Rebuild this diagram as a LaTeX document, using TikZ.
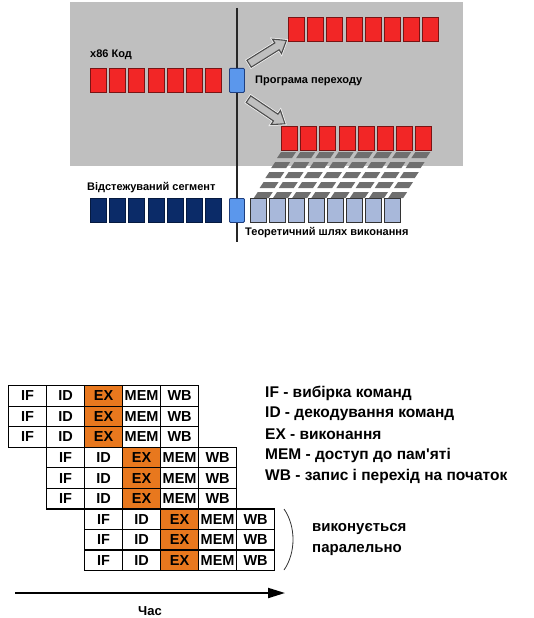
\documentclass[tikz,border=0pt]{standalone}
\usepackage{fontspec}
\setmainfont{Liberation Sans}
\usepackage{xcolor}
\usepackage{tikz}
\usetikzlibrary{arrows.meta,shapes.arrows}
\definecolor{cpanel}{HTML}{BFBFBF}
\definecolor{cred}{HTML}{F22626}
\definecolor{credd}{HTML}{7A1414}
\definecolor{cjump}{HTML}{5B97EC}
\definecolor{cjumpd}{HTML}{1F3F7F}
\definecolor{cnavy}{HTML}{0B2B68}
\definecolor{cnavyd}{HTML}{061A40}
\definecolor{clight}{HTML}{A8B8DA}
\definecolor{cshadow}{HTML}{6F6F6F}
\definecolor{corange}{HTML}{E8781E}
\tikzset{
  redbox/.style={rectangle, draw=credd, fill=cred, minimum width=16pt,
    minimum height=24pt, inner sep=0pt, anchor=north west, line width=0.8pt},
  jumpbox/.style={redbox, draw=cjumpd, fill=cjump, minimum width=15pt, rounded corners=1pt},
  navybox/.style={redbox, draw=cnavyd, fill=cnavy},
  pathbox/.style={redbox, draw=black!80, fill=clight},
  hollow/.style={single arrow, draw=black!70, fill=cpanel, line width=1.1pt,
    minimum height=44pt, inner sep=3.5pt, single arrow head extend=4.5pt,
    single arrow tip angle=75,
    preaction={draw=white!85!cpanel, line width=2.6pt}},
  lbl/.style={anchor=west, inner sep=0pt, font=\bfseries\fontsize{11}{13}\selectfont},
  stage/.style={rectangle, draw=black, fill=white, line width=1.2pt, anchor=north west,
    minimum width=38pt, minimum height=20.55pt, inner sep=0pt,
    font=\bfseries\fontsize{14.5}{16}\selectfont},
  exstage/.style={stage, fill=corange},
  legend/.style={anchor=west, inner sep=0pt, font=\bfseries\fontsize{15.5}{17}\selectfont},
  timearrow/.style={-{Triangle[length=17pt,width=10pt]}, line width=2pt, draw=black},
}
\begin{document}
\begin{tikzpicture}[x=1pt,y=-1pt]
  \useasboundingbox (0,0) rectangle (533,618);
  \fill[cpanel] (70,2) rectangle (463,166);
  \foreach \rw in {0,...,4}
    \foreach \kk in {0,...,7}
      \fill[cshadow] (281+19.2*\kk-5.8*\rw,152+10*\rw) -- ++(15,0) -- ++(-4,6) -- ++(-15,0) -- cycle;
  \coordinate (axtop) at (237,8);
  \coordinate (axbot) at (237,242);
  \draw[line width=2pt, black!85] (axtop) -- (axbot);
  \foreach \kk in {0,...,6}{
    \node[redbox] (x86-\kk) at (90+19.2*\kk,68) {};
    \node[navybox] (trace-\kk) at (90+19.2*\kk,198) {};
  }
  \foreach \kk in {0,...,7}{
    \node[redbox] (hi-\kk) at (288+19.2*\kk,17) {};
    \node[redbox] (lo-\kk) at (281+19.2*\kk,126) {};
    \node[pathbox] (path-\kk) at (250+19.2*\kk,198) {};
  }
  \node[jumpbox] (jmp) at (229,68) {};
  \node[jumpbox] (jmp2) at (229,198) {};
  \node[hollow, rotate=32] (up) at (265.5,53.5) {};
  \node[hollow, rotate=-34] (down) at (264.5,110) {};
  \node[lbl] (code) at (90,55) {x86 Код};
  \node[lbl] (prog) at (255,81) {Програма переходу};
  \node[lbl] (seg) at (87,188) {Відстежуваний сегмент};
  \node[lbl] (theo) at (245,233) {Теоретичний шлях виконання};

  \foreach \rw in {1,...,9}{
    \pgfmathsetmacro\xo{8+38*floor((\rw-1)/3)}
    \pgfmathsetmacro\yo{385+20.55*(\rw-1)}
    \foreach \s/\st [count=\kk from 0] in {IF/stage,ID/stage,EX/exstage,MEM/stage,WB/stage}
      \node[\st] (s-\rw-\kk) at (\xo+38*\kk,\yo) {\s};
  }
  \node[legend] (l-if) at (265,393) {IF - вибірка команд};
  \node[legend] (l-id) at (265,414) {ID - декодування команд};
  \node[legend] (l-ex) at (265,434.5) {EX - виконання};
  \node[legend] (l-mem) at (265,455) {MEM - доступ до пам\textquotesingle яті};
  \node[legend] (l-wb) at (265,476) {WB - запис і перехід на початок};
  \coordinate (br0) at (284,509);
  \coordinate (br1) at (284,570);
  \draw[line width=0.8pt, black!80] (br0) .. controls (296,526) and (296,553) .. (br1);
  \node[legend, font=\bfseries\fontsize{15}{17}\selectfont] (par1) at (312,529) {виконується};
  \node[legend, font=\bfseries\fontsize{15}{17}\selectfont] (par2) at (312,550) {паралельно};
  \coordinate (t0) at (15,593);
  \coordinate (t1) at (285,593);
  \draw[timearrow] (t0) -- (t1);
  \node[legend, anchor=center, font=\bfseries\fontsize{13}{15}\selectfont] (time) at (150,611) {Час};
\end{tikzpicture}
\end{document}
